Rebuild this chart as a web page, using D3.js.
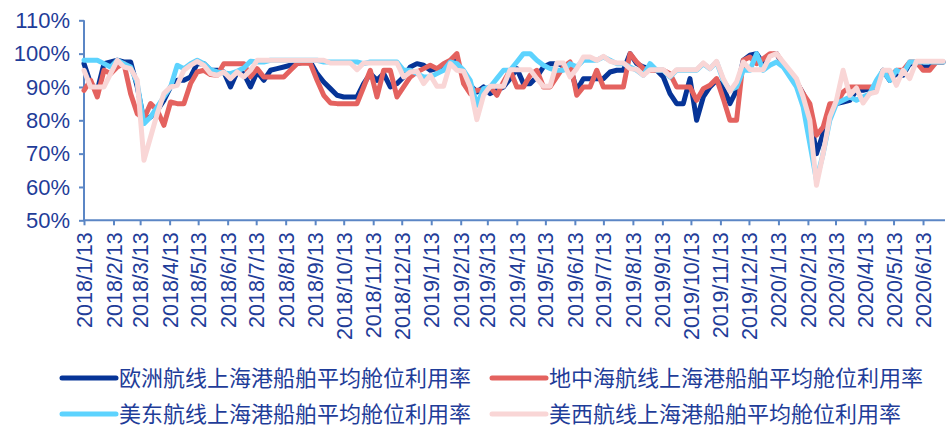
<!DOCTYPE html>
<html><head><meta charset="utf-8">
<script src="https://cdnjs.cloudflare.com/ajax/libs/d3/7.8.5/d3.min.js"></script>
<style>
html,body{margin:0;padding:0;background:#fff;}
text{font-family:"Liberation Sans",Arial,"Noto Sans CJK SC",sans-serif;}
</style></head>
<body><svg id="chart" width="947" height="430"></svg>
<script>
// ---- data ----
const startDate = "2018-01-13";   // first weekly observation
const weekCount = 130;
const seriesNames = ["欧洲航线上海港船舶平均舱位利用率","地中海航线上海港船舶平均舱位利用率","美东航线上海港船舶平均舱位利用率","美西航线上海港船舶平均舱位利用率"];
const europe = [97,91,89,97,97.5,98,97.5,97.5,90,80,
 81,83,86,90,92,92,93,97,97,95,
 95,94.5,90,94.5,94,90,94.5,92,95,95.5,
 96,96.5,97,97.5,97.5,94,91.5,89.5,87.5,87,
 87,87,91,94,92,94,90,91,93,96,
 97,96.5,95,95.5,96,97,98,93,90.5,88.5,
 90,88,89,90,92.5,95.5,91,91,93,96,
 97,97,96.5,96,89,92.5,92.5,92.5,92.5,94.5,
 95,95,100,97,96,95.5,95,93,88,85,
 85,92.5,80,87,90,92,90,85,89,98,
 99.5,100,97,99.5,100,96.5,94,91.5,88,82,
 70,76,84,85,85.5,86,89,89,89.5,90,
 95,92,94,93.5,97,97,96,96,97.5,97.5];
const mediterranean = [89,92,87,95,94,96,97,88,82,80.5,
 85,83,78.5,85.5,85,85,91,94.5,95,93.7,
 93.5,97,97,97,97,93,95.5,93,93,93,
 93,95,97,97.2,97,92,87.5,85.2,85,85,
 85,85,90,95,87,95,95,87,90,93,
 94.5,95.5,96.5,95.5,97,98,100,91,88,89,
 89,90,87.5,91.5,95,90,90,93.5,95,90,
 90,93,96,97.5,87.5,90,90,95,90,90,
 90,90,100,97.5,95.5,95,95,95,94,90,
 90,90,86,89.5,90.5,92.5,86.5,80,80,98,
 99,97,98.5,100,100,97,94,91.5,88,85,
 75.5,78,85,85,88.5,90,90,90,90,90,
 95,93,95,95,97.5,97.5,95,95,97.5,97.5];
const usEast = [98,98,98,97,96,98,97,96,91,79,
 81,84,87,90,96.5,95.5,97,98,97,95.2,
 94.5,94.2,94,94.7,95.7,97.7,97.5,97.5,98,98,
 98,98,98,98,98,98,97.5,97.5,97.5,97.5,
 97.5,97.5,97,97.5,97.5,97.5,97.5,97.5,95,95,
 94,93,93,94,95,97.5,97,95,92,84.5,
 89.5,90,92.5,95,95,97.5,100,100,98,96.5,
 95.5,95,95,97,96,98,98,98,99,98,
 97,97,96,95,93.5,97,95,95,93,95,
 95,95,95,97,95.5,97.5,92,89,90,95,
 95,100,95,96.5,97.5,96,93,90,84,73,
 62,70,80,85,86,87,86,87,88,92,
 95,92,95,94,97.5,97.5,97.5,97.5,97.5,97.5];
const usWest = [95,90,90,90,94,98,96,95.5,92,68,
 75,82,88,90,90.5,95,96.5,97.7,96.5,94,
 93.5,94.5,92.5,94.5,93,95,98,98,98,98,
 98,98,98,98,98,98,98,97.2,97.2,97.2,
 97.2,95.2,97.2,97.2,97.2,97.2,97.2,97.2,93,94.5,
 94.7,91,93.5,90.2,90.2,97,95,94.7,90,80.2,
 87.5,90.2,90.2,90.2,95.2,95.2,95.2,95.2,92.5,90.2,
 90.2,97.2,97.2,93,95.5,99,99,98,99.2,97.7,
 97.2,97.2,95.5,95.2,93.5,95.2,95.2,95.2,93.2,95.2,
 95.2,95.2,95.2,97.2,95.5,97.7,92.5,88.7,91.5,97.5,
 95.2,95.2,95.2,99.2,100,97.5,95,92.5,87,80,
 60.5,70,81,86,95,87.5,89.7,85.2,88,88.5,
 95,95,90.5,95,92.5,97.7,97.7,97.7,97.7,97.7];
const tickLabels = ["2018/1/13","2018/2/13","2018/3/13","2018/4/13","2018/5/13","2018/6/13","2018/7/13","2018/8/13","2018/9/13","2018/10/13","2018/11/13","2018/12/13",
 "2019/1/13","2019/2/13","2019/3/13","2019/4/13","2019/5/13","2019/6/13","2019/7/13","2019/8/13","2019/9/13","2019/10/13","2019/11/13","2019/12/13",
 "2020/1/13","2020/2/13","2020/3/13","2020/4/13","2020/5/13","2020/6/13"];
const yTicks = [50,60,70,80,90,100,110];
const colors = ["#063497","#E4625F","#5DD3FE","#F9D6D6"];

// ---- layout ----
const svg = d3.select("#chart");
const plotLeft = 84, plotRight = 943, plotTop = 20.3, plotBottom = 220.3;
const textColor = "#1F3D99", axisColor = "#5B86C5";

const parse = d3.timeParse("%Y-%m-%d");
const parseTick = d3.timeParse("%Y/%m/%d");
const t0 = parse(startDate);
const dates = d3.range(weekCount).map(i => d3.timeDay.offset(t0, i * 7));
const x = d3.scaleTime().domain([dates[0], dates[dates.length - 1]]).range([plotLeft, plotRight]);
const y = d3.scaleLinear().domain([50, 110]).range([plotBottom, plotTop]);

// axes
const yAxis = d3.axisLeft(y).tickValues(yTicks).tickFormat(d => d + "%").tickSize(5).tickPadding(9);
const gy = svg.append("g").attr("transform", `translate(${plotLeft},0)`).call(yAxis);
const tickDates = tickLabels.map(parseTick);
const xAxis = d3.axisBottom(x).tickValues(tickDates).tickFormat((d, i) => tickLabels[i]).tickSize(5).tickPadding(6);
const gx = svg.append("g").attr("transform", `translate(0,${plotBottom})`).call(xAxis);
[gx, gy].forEach(g => {
  g.select(".domain").attr("stroke", axisColor).attr("stroke-width", 2);
  g.selectAll(".tick line").attr("stroke", axisColor).attr("stroke-width", 2);
  g.selectAll(".tick text").attr("fill", textColor);
});
gy.selectAll(".tick text").style("font-size", "22px");
gx.selectAll(".tick text").style("font-size", "21.5px");
gx.select(".domain").attr("d", `M${plotLeft},0H${plotRight + 2}`);
gy.select(".domain").attr("d", `M0,${plotTop}V${plotBottom}`);
gx.selectAll(".tick text")
  .attr("transform", "rotate(-90)")
  .attr("text-anchor", "end")
  .attr("x", -12).attr("y", 0).attr("dy", "0.35em");

// lines
const allSeries = [europe, mediterranean, usEast, usWest];
const line = d3.line().x((d, i) => x(dates[i])).y(d => y(d)).curve(d3.curveLinear);
allSeries.forEach((s, k) => {
  svg.append("path").datum(s)
    .attr("d", line)
    .attr("fill", "none")
    .attr("stroke", colors[k])
    .attr("stroke-width", 5)
    .attr("stroke-linejoin", "round")
    .attr("stroke-linecap", "round");
});

// legend
const legendPos = [[62, 378], [492, 378], [62, 414], [492, 414]];
seriesNames.forEach((name, k) => {
  const [lx, ly] = legendPos[k];
  const g = svg.append("g");
  g.append("line").attr("x1", lx).attr("x2", lx + 54).attr("y1", ly).attr("y2", ly)
    .attr("stroke", colors[k]).attr("stroke-width", 5).attr("stroke-linecap", "round");
  g.append("text").attr("x", lx + 57).attr("y", ly).attr("dy", "0.35em")
    .attr("fill", textColor).style("font-size", "22px").text(name);
});
</script></body></html>
